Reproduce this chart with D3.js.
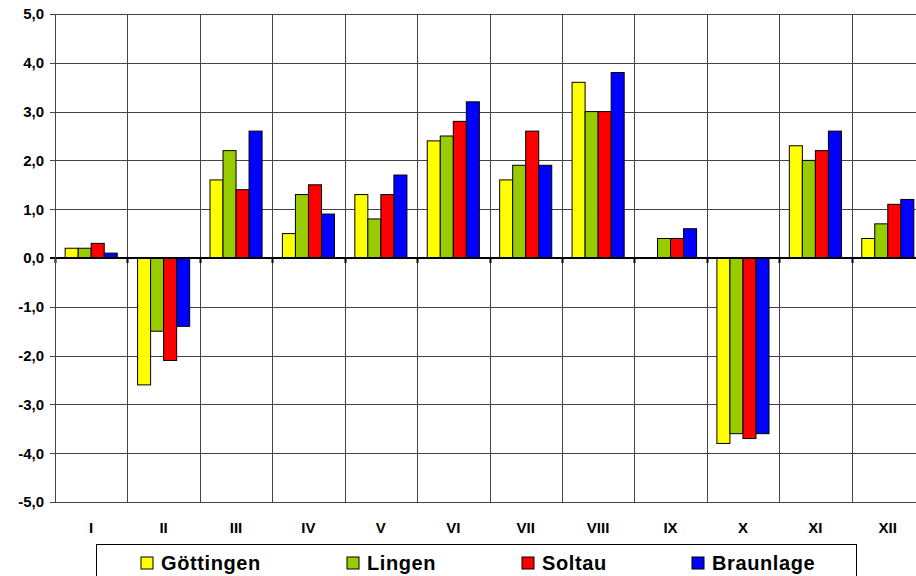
<!DOCTYPE html>
<html>
<head>
<meta charset="utf-8">
<script src="https://cdn.jsdelivr.net/npm/d3@7"></script>
<style>
  body { margin: 0; background: #fff; }
  svg text { font-family: "Liberation Sans", Arial, sans-serif; font-weight: bold; }
</style>
</head>
<body>
<div id="chart"></div>
<script>
const months = ["I", "II", "III", "IV", "V", "VI", "VII", "VIII", "IX", "X", "XI", "XII"];
const stations = ["Göttingen", "Lingen", "Soltau", "Braunlage"];
const colors = ["#ffff00", "#99cc00", "#ff0000", "#0000ff"];

const goettingen = [0.2, -2.6, 1.6, 0.5, 1.3, 2.4, 1.6, 3.6, 0.0, -3.8, 2.3, 0.4];
const lingen     = [0.2, -1.5, 2.2, 1.3, 0.8, 2.5, 1.9, 3.0, 0.4, -3.6, 2.0, 0.7];
const soltau     = [0.3, -2.1, 1.4, 1.5, 1.3, 2.8, 2.6, 3.0, 0.4, -3.7, 2.2, 1.1];
const braunlage  = [0.1, -1.4, 2.6, 0.9, 1.7, 3.2, 1.9, 3.8, 0.6, -3.6, 2.6, 1.2];
const series = [goettingen, lingen, soltau, braunlage];

const yTicks = [-5, -4, -3, -2, -1, 0, 1, 2, 3, 4, 5];

let width = 916, height = 576,
    margin = ({ top: 14, right: -8, bottom: 74, left: 55 });

const svg = d3.select("#chart")
  .append("svg")
  .attr("width", width)
  .attr("height", height);

const x = d3.scaleBand()
  .domain(months)
  .range([margin.left, width - margin.right]);

const xInner = d3.scaleBand()
  .domain(d3.range(stations.length))
  .range([0, x.bandwidth()])
  .paddingOuter(0.78)
  .paddingInner(0);

const y = d3.scaleLinear()
  .domain([-5, 5])
  .range([height - margin.bottom, margin.top]);

// horizontal grid
svg.append("g")
  .selectAll("line")
  .data(yTicks)
  .join("line")
    .attr("x1", margin.left - 5)
    .attr("x2", width)
    .attr("y1", d => Math.round(y(d)) + 0.5)
    .attr("y2", d => Math.round(y(d)) + 0.5)
    .attr("stroke", "#444")
    .attr("stroke-width", 1);

// vertical grid (month separators)
svg.append("g")
  .selectAll("line")
  .data(months)
  .join("line")
    .attr("x1", d => Math.round(x(d)) + 0.5)
    .attr("x2", d => Math.round(x(d)) + 0.5)
    .attr("y1", margin.top)
    .attr("y2", height - margin.bottom)
    .attr("stroke", "#444")
    .attr("stroke-width", 1);

// y labels
svg.append("g")
  .selectAll("text")
  .data(yTicks)
  .join("text")
    .attr("x", 44)
    .attr("y", d => y(d))
    .attr("dy", "0.36em")
    .attr("text-anchor", "end")
    .attr("font-size", 15)
    .text(d => d3.format(".1f")(d).replace(".", ",").replace("−", "-"));

// bars
const groups = svg.append("g")
  .selectAll("g")
  .data(months)
  .join("g")
    .attr("transform", d => `translate(${x(d)},0)`);

groups.selectAll("rect")
  .data((m, i) => series.map((s, k) => ({ k: k, v: s[i] })))
  .join("rect")
    .attr("x", d => xInner(d.k))
    .attr("width", xInner.bandwidth())
    .attr("y", d => y(Math.max(0, d.v)))
    .attr("height", d => Math.abs(y(d.v) - y(0)))
    .attr("fill", d => colors[d.k])
    .attr("stroke", "#000")
    .attr("stroke-width", 1);

// zero line with ticks
svg.append("line")
  .attr("x1", margin.left - 5)
  .attr("x2", width)
  .attr("y1", y(0))
  .attr("y2", y(0))
  .attr("stroke", "#000")
  .attr("stroke-width", 2);

svg.append("g")
  .selectAll("line")
  .data(months)
  .join("line")
    .attr("x1", d => Math.round(x(d)) + 0.5)
    .attr("x2", d => Math.round(x(d)) + 0.5)
    .attr("y1", y(0))
    .attr("y2", y(0) + 5)
    .attr("stroke", "#000")
    .attr("stroke-width", 2);

// left axis line
svg.append("line")
  .attr("x1", margin.left + 0.5)
  .attr("x2", margin.left + 0.5)
  .attr("y1", margin.top)
  .attr("y2", height - margin.bottom)
  .attr("stroke", "#444");

// month labels
svg.append("g")
  .selectAll("text")
  .data(months)
  .join("text")
    .attr("x", d => x(d) + x.bandwidth() / 2)
    .attr("y", 533)
    .attr("text-anchor", "middle")
    .attr("font-size", 15)
    .text(d => d);

// legend
const legend = svg.append("g");
legend.append("rect")
  .attr("x", 96.5)
  .attr("y", 544.5)
  .attr("width", 760)
  .attr("height", 40)
  .attr("fill", "#fff")
  .attr("stroke", "#000");

const legendX = [141, 347, 522, 692];
const items = legend.selectAll("g")
  .data(stations)
  .join("g")
    .attr("transform", (d, i) => `translate(${legendX[i]},557)`);

items.append("rect")
  .attr("width", 12)
  .attr("height", 12)
  .attr("fill", (d, i) => colors[i])
  .attr("stroke", "#000");

items.append("text")
  .attr("x", 20)
  .attr("y", 13)
  .attr("font-size", 20)
  .attr("letter-spacing", 0.6)
  .text(d => d);
</script>
</body>
</html>
